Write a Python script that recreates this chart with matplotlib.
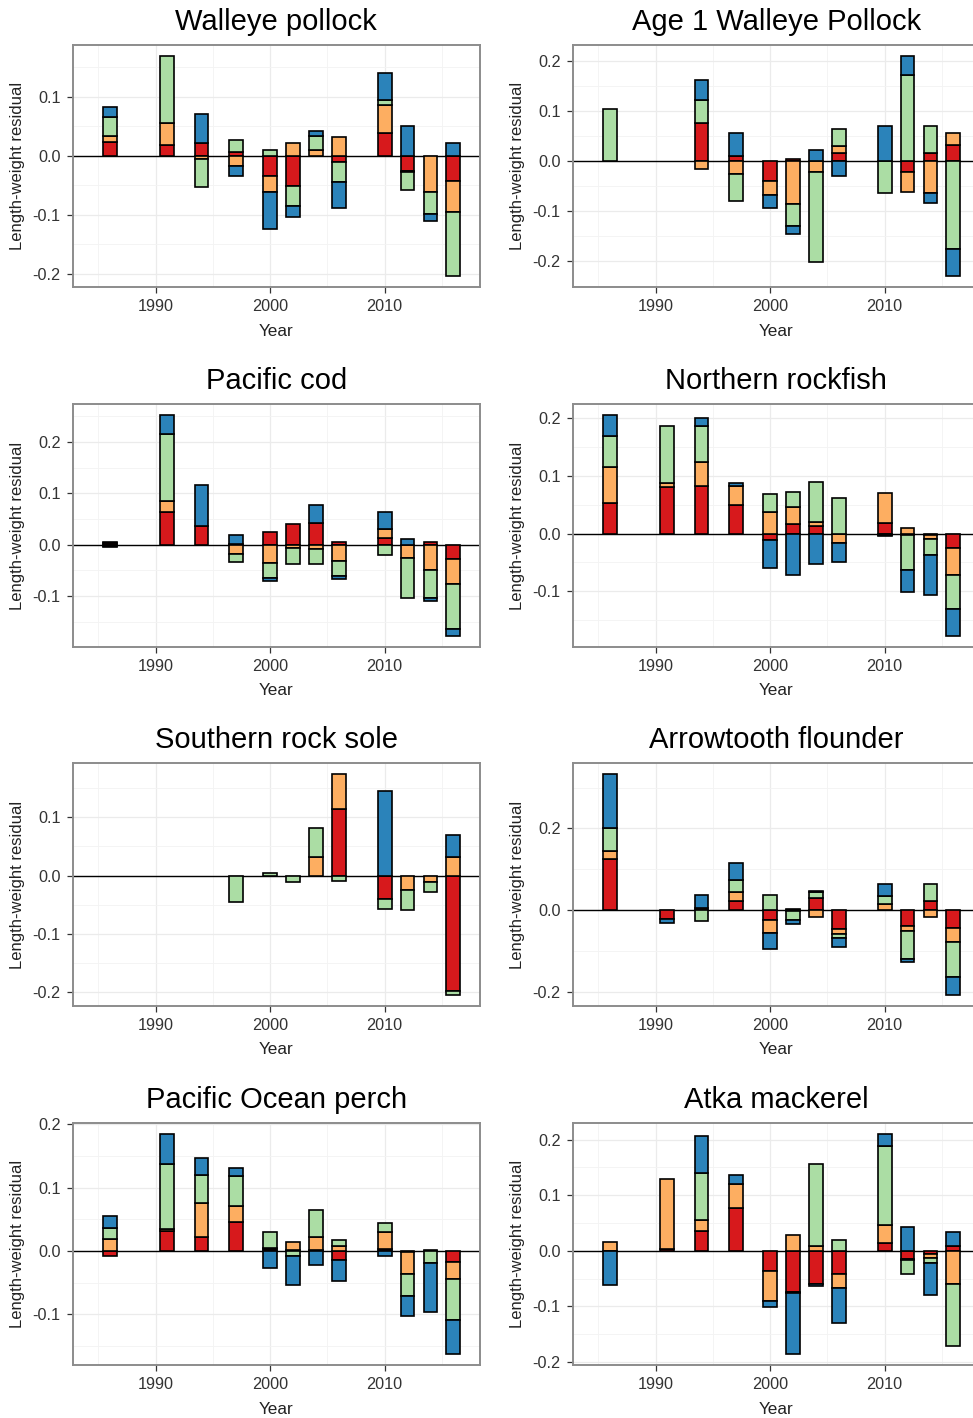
import numpy as np
import matplotlib
matplotlib.use("Agg")
import matplotlib.pyplot as plt
from matplotlib.ticker import MultipleLocator, FormatStrFormatter

plt.rcParams['font.family'] = ['Liberation Sans', 'DejaVu Sans']
plt.rcParams['axes.unicode_minus'] = False

nan = np.nan

years = [1986, 1991, 1994, 1997, 2000, 2002, 2004, 2006, 2010, 2012, 2014, 2016]

# survey areas, stacked outward from zero in this order
regions = ["Southern Bering Sea", "Eastern Aleutians", "Central Aleutians", "Western Aleutians"]
region_colors = ["#D7191C", "#FDAE61", "#ABDDA4", "#2B83BA"]

# residuals per area (rows follow `regions`), one column per survey year
walleye_pollock = [
    [0.023, 0.018, 0.021, 0.006, -0.035, -0.051, nan, -0.011, 0.039, -0.025, nan, -0.043],
    [0.010, 0.037, -0.006, -0.0175, -0.026, 0.021, 0.0096, 0.032, 0.047, -0.002, -0.061, -0.052],
    [0.0325, 0.114, -0.047, 0.020, 0.010, -0.034, 0.024, -0.034, 0.008, -0.031, -0.037, -0.109],
    [0.017, nan, 0.050, -0.017, -0.063, -0.018, 0.009, -0.043, 0.047, 0.050, -0.013, 0.021],
]
age1_pollock = [
    [nan, nan, 0.075, 0.009, -0.041, 0.003, nan, 0.015, nan, -0.023, 0.015, 0.031],
    [nan, nan, -0.016, -0.027, -0.027, -0.087, -0.022, 0.014, nan, -0.040, -0.065, 0.025],
    [0.103, nan, 0.046, -0.054, nan, -0.044, -0.181, 0.034, -0.065, 0.171, 0.054, -0.177],
    [nan, nan, 0.041, 0.047, -0.026, -0.016, 0.022, -0.031, 0.069, 0.038, -0.020, -0.054],
]
pacific_cod = [
    [0.003, 0.063, 0.036, 0.002, 0.024, 0.040, 0.0416, 0.006, 0.014, nan, 0.006, -0.028],
    [0.002, 0.022, nan, -0.0175, -0.036, -0.0065, -0.009, -0.031, 0.016, -0.025, -0.049, -0.049],
    [-0.003, 0.1306, nan, -0.0155, -0.028, -0.0305, -0.028, -0.030, -0.019, -0.079, -0.055, -0.0866],
    [-0.002, 0.036, 0.080, 0.016, -0.007, nan, 0.035, -0.0065, 0.0336, 0.012, -0.006, -0.013],
]
northern_rockfish = [
    [0.053, 0.0806, 0.083, 0.0487, -0.0116, 0.0157, 0.0122, nan, 0.018, -0.003, -0.002, -0.0255],
    [0.0624, 0.008, 0.041, 0.0342, 0.037, 0.030, 0.0075, -0.0168, 0.0516, 0.0104, -0.007, -0.047],
    [0.054, 0.098, 0.0627, nan, 0.0325, 0.0272, 0.069, 0.062, -0.002, -0.060, -0.029, -0.0585],
    [0.036, nan, 0.0133, 0.0057, -0.049, -0.0719, -0.0528, -0.0325, -0.003, -0.038, -0.068, -0.0464],
]
southern_rock_sole = [
    [nan, nan, nan, nan, nan, nan, nan, 0.115, -0.040, nan, nan, -0.1989],
    [nan, nan, nan, nan, nan, nan, 0.032, 0.059, nan, -0.025, -0.011, 0.032],
    [nan, nan, nan, -0.046, 0.005, -0.011, 0.050, -0.009, -0.017, -0.0344, -0.0165, -0.0057],
    [nan, nan, nan, nan, nan, nan, nan, nan, 0.145, nan, nan, 0.037],
]
arrowtooth_flounder = [
    [0.1257, -0.0229, nan, 0.022, -0.0245, 0.003, 0.030, -0.0457, nan, -0.039, 0.021, -0.043],
    [0.019, nan, 0.005, 0.023, -0.031, -0.003, -0.016, -0.014, 0.014, -0.012, -0.016, -0.0343],
    [0.057, nan, -0.027, 0.0294, 0.038, -0.022, 0.015, -0.0098, 0.020, -0.068, 0.043, -0.088],
    [0.131, -0.008, 0.033, 0.040, -0.0408, -0.010, 0.002, -0.020, 0.030, -0.008, nan, -0.042],
]
pacific_ocean_perch = [
    [-0.007, 0.032, 0.022, 0.0463, 0.003, 0.002, 0.001, -0.0137, 0.004, -0.002, nan, -0.0174],
    [0.019, 0.0027, 0.0537, 0.0253, 0.002, 0.013, 0.0216, 0.0074, 0.0255, -0.034, 0.002, -0.0273],
    [0.017, 0.1027, 0.0447, 0.0463, 0.0245, -0.007, 0.0426, 0.0105, 0.0147, -0.035, -0.019, -0.0637],
    [0.019, 0.048, 0.0274, 0.013, -0.027, -0.047, -0.022, -0.033, -0.007, -0.032, -0.077, -0.054],
]
atka_mackerel = [
    [nan, 0.0024, 0.0353, 0.0778, -0.037, -0.0737, -0.0605, -0.041, 0.0138, -0.0144, -0.005, 0.0084],
    [0.016, 0.127, 0.0204, 0.042, -0.0527, 0.028, 0.0084, -0.0266, 0.033, -0.002, -0.0088, -0.0605],
    [nan, nan, 0.0844, nan, nan, -0.002, 0.1485, 0.0198, 0.141, -0.026, -0.0078, -0.1107],
    [-0.062, nan, 0.067, 0.0173, -0.0114, -0.110, -0.002, -0.0617, 0.0228, 0.042, -0.058, 0.0251],
]

species = [
    ("Walleye pollock", walleye_pollock),
    ("Age 1 Walleye Pollock", age1_pollock),
    ("Pacific cod", pacific_cod),
    ("Northern rockfish", northern_rockfish),
    ("Southern rock sole", southern_rock_sole),
    ("Arrowtooth flounder", arrowtooth_flounder),
    ("Pacific Ocean perch", pacific_ocean_perch),
    ("Atka mackerel", atka_mackerel),
]

# panel geometry in pixels
FIG_W, FIG_H = 973, 1418
col_left = [72.7, 572.7]
row_top = [45, 404.3, 763.3, 1122.7]
PW, PH = 407, 242.3

fig = plt.figure(figsize=(FIG_W / 100, FIG_H / 100), dpi=100)
x = np.array(years, dtype=float)

for i, (name, resid) in enumerate(species):
    row, col = divmod(i, 2)
    left, top = col_left[col], row_top[row]
    ax = fig.add_axes([left / FIG_W, 1 - (top + PH) / FIG_H, PW / FIG_W, PH / FIG_H])

    vals = np.array(resid, dtype=float)
    pos_base = np.zeros(len(years))
    neg_base = np.zeros(len(years))
    for k in range(len(regions)):
        v = vals[k]
        ok = ~np.isnan(v)
        up = ok & (v >= 0)
        dn = ok & (v < 0)
        ax.bar(x[up], v[up], bottom=pos_base[up], width=1.2, color=region_colors[k],
               edgecolor="black", linewidth=1.2, zorder=3, label=regions[k])
        ax.bar(x[dn], v[dn], bottom=neg_base[dn], width=1.2, color=region_colors[k],
               edgecolor="black", linewidth=1.2, zorder=3)
        pos_base[up] += v[up]
        neg_base[dn] += v[dn]

    ax.axhline(0, color="black", linewidth=1.0, zorder=2.5)

    ymax, ymin = pos_base.max(), neg_base.min()
    pad = 0.05 * (ymax - ymin)
    ax.set_ylim(ymin - pad, ymax + pad)
    ax.set_xlim(1982.75, 2018.3)

    step = 0.2 if (ymax - ymin) > 0.5 else 0.1
    ax.yaxis.set_major_locator(MultipleLocator(step))
    ax.yaxis.set_minor_locator(MultipleLocator(step / 2))
    ax.yaxis.set_major_formatter(FormatStrFormatter("%.1f"))
    ax.set_xticks([1990, 2000, 2010])
    ax.set_xticks([1985, 1995, 2005, 2015], minor=True)

    ax.grid(which="major", color="#EBEBEB", linewidth=0.9)
    ax.grid(which="minor", color="#F3F3F3", linewidth=0.6)
    ax.set_axisbelow(True)

    for s in ax.spines.values():
        s.set_color("#8C8C8C")
        s.set_linewidth(1.4)
    ax.tick_params(which="major", length=4.2, width=0.9, color="#333333",
                   labelsize=11.7, labelcolor="#333333", pad=4.5)
    ax.tick_params(which="minor", length=0)

    ax.set_title(name, fontsize=21, pad=10.8)
    ax.set_xlabel("Year", fontsize=12.3, color="#222222")
    ax.set_ylabel("Length-weight residual", fontsize=12, color="#222222")
    ax.xaxis.set_label_coords(0.5, -0.152)
    ax.yaxis.set_label_coords(-0.117, 0.5)

fig.savefig("out.png", dpi=100)
